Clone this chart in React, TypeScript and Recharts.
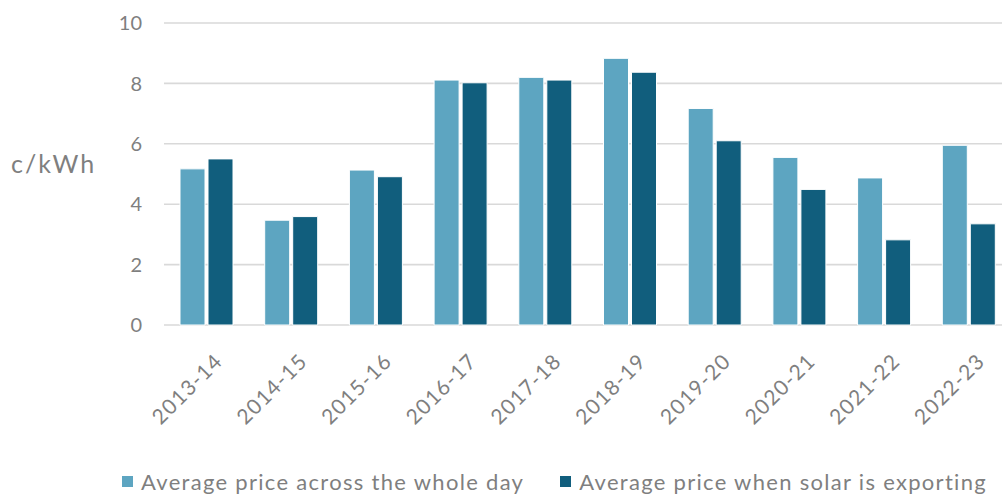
import {
  BarChart,
  Bar,
  XAxis,
  YAxis,
  CartesianGrid,
  Legend,
} from 'recharts';

const years = [
  '2013-14',
  '2014-15',
  '2015-16',
  '2016-17',
  '2017-18',
  '2018-19',
  '2019-20',
  '2020-21',
  '2021-22',
  '2022-23',
];
const wholeDay = [5.17, 3.47, 5.13, 8.11, 8.2, 8.83, 7.17, 5.55, 4.87, 5.95];
const solarExporting = [5.5, 3.59, 4.91, 8.02, 8.11, 8.37, 6.1, 4.49, 2.82, 3.35];
const yTicks = [0, 2, 4, 6, 8, 10];

const chartData = years.map((year, i) => ({
  year,
  wholeDay: wholeDay[i],
  solarExporting: solarExporting[i],
}));

const FONT = 'Lato, "Open Sans", sans-serif';
const GREY = '#7f7f7f';
const LIGHT = '#5da5c1';
const DARK = '#115e7d';

function LegendContent({ payload }: any) {
  return (
    <div
      style={{
        display: 'flex',
        alignItems: 'center',
        paddingLeft: 122,
        paddingTop: 23,
        fontFamily: FONT,
        fontSize: 22,
        color: GREY,
        letterSpacing: 1.3,
        whiteSpace: 'nowrap',
      }}
    >
      {(payload || []).map((entry: any) => (
        <div
          key={entry.value}
          style={{ display: 'flex', alignItems: 'center', marginRight: 36 }}
        >
          <span
            style={{
              width: 11,
              height: 11,
              background: entry.color,
              marginRight: 8,
              display: 'inline-block',
            }}
          />
          <span>{entry.value}</span>
        </div>
      ))}
    </div>
  );
}

export default function App() {
  return (
    <div
      style={{
        position: 'fixed',
        left: 0,
        top: 0,
        width: 1002,
        height: 495,
        overflow: 'hidden',
        background: '#fff',
      }}
    >
      <BarChart
        width={1012}
        height={495}
        data={chartData}
        margin={{ top: 23, right: 1, bottom: 0, left: 0 }}
        barSize={25}
        barGap={3}
      >
        <CartesianGrid vertical={false} stroke="#d9d9d9" strokeWidth={1.6} />
        <XAxis
          dataKey="year"
          height={120}
          tickLine={false}
          axisLine={false}
          interval={0}
          angle={-45}
          textAnchor="end"
          tickMargin={21}
          tick={{
            fontSize: 21,
            fill: GREY,
            fontFamily: FONT,
            letterSpacing: 1.2,
            dx: 7,
          }}
        />
        <YAxis
          width={164}
          domain={[0, 10]}
          ticks={yTicks}
          tickLine={false}
          axisLine={false}
          tickMargin={16}
          tick={{ fontSize: 20, fill: GREY, fontFamily: FONT }}
          label={{
            value: 'c/kWh',
            position: 'insideLeft',
            offset: 11,
            dy: -10,
            style: {
              fontSize: 25,
              fill: GREY,
              fontFamily: FONT,
              letterSpacing: 2,
              textAnchor: 'start',
            },
          }}
        />
        <Legend verticalAlign="bottom" height={50} content={<LegendContent />} />
        <Bar
          dataKey="wholeDay"
          name="Average price across the whole day"
          fill={LIGHT}
          stroke="#ffffff"
          strokeWidth={1}
          isAnimationActive={false}
        />
        <Bar
          dataKey="solarExporting"
          name="Average price when solar is exporting"
          fill={DARK}
          stroke="#ffffff"
          strokeWidth={1}
          isAnimationActive={false}
        />
      </BarChart>
    </div>
  );
}
